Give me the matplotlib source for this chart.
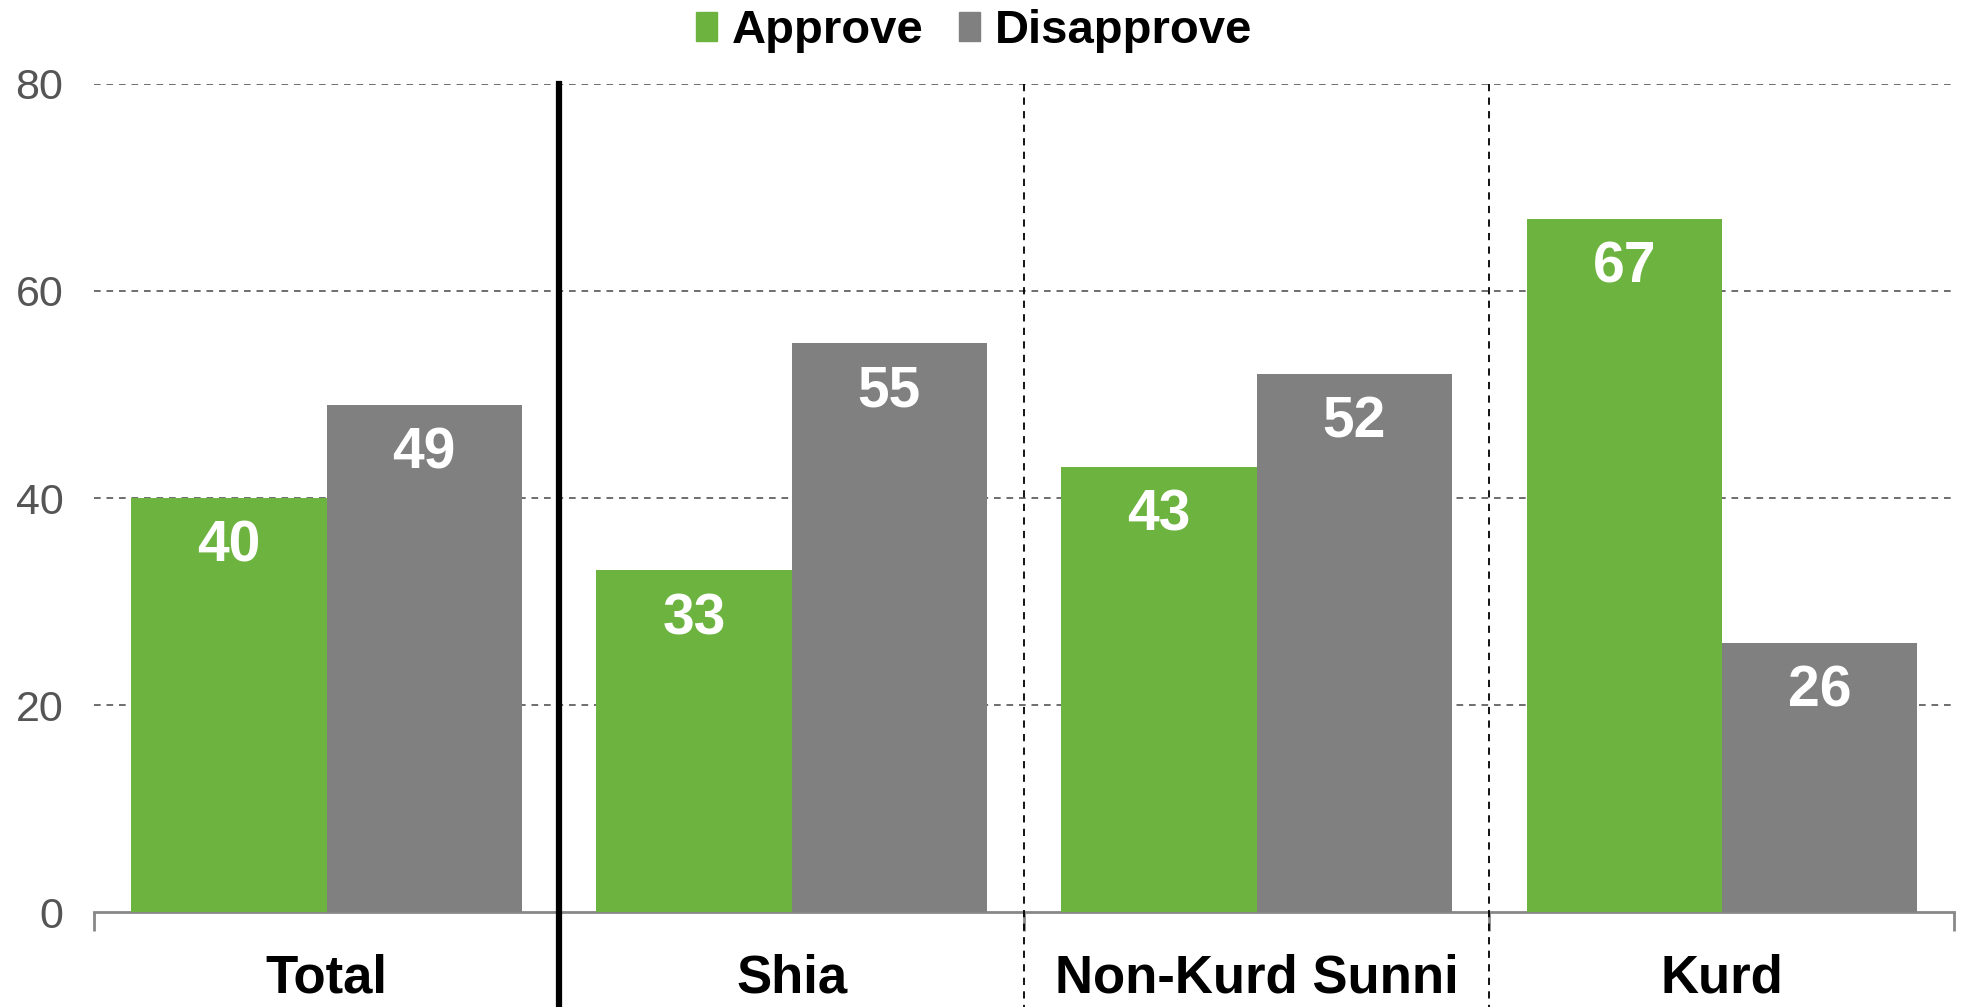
import matplotlib.pyplot as plt
from matplotlib.patches import Patch
import numpy as np

plt.rcParams['font.family'] = ['Liberation Sans', 'DejaVu Sans']

#%%
groups = ["Total", "Shia", "Non-Kurd Sunni", "Kurd"]
approve = [40, 33, 43, 67]
disapprove = [49, 55, 52, 26]
yticks = [0, 20, 40, 60, 80]

green = "#6db33f"
gray = "#808080"

#%%
fig = plt.figure(figsize=(19.67, 10.07), dpi=100)
ax = fig.add_axes([0.0478, 0.0943, 0.9458, 0.8223])

x = np.arange(len(groups))
w = 0.42
b1 = ax.bar(x - w / 2, approve, w, color=green, zorder=3)
b2 = ax.bar(x + w / 2, disapprove, w, color=gray, zorder=3)

for bars, vals in [(b1, approve), (b2, disapprove)]:
    for r, v in zip(bars, vals):
        ax.text(r.get_x() + r.get_width() / 2, v - 4.7, str(v), ha="center", va="center",
                color="white", fontsize=41, fontweight="bold", zorder=4)

ax.set_xlim(-0.5, len(groups) - 0.5)
ax.set_ylim(0, 80)

# gridlines
for yv in yticks[1:]:
    ax.axhline(yv, color="#555555", linestyle=(0, (4, 3.5)), linewidth=1.2, zorder=1)

# separators between groups
ax.plot([0.5, 0.5], [80, -9.3], color="black", linewidth=4.5, clip_on=False, zorder=5)
for xs in [1.5, 2.5]:
    ax.plot([xs, xs], [80, -9.3], color="black", linewidth=1.3, linestyle=(0, (4, 3.5)),
            clip_on=False, zorder=5)

for s in ["top", "right", "left"]:
    ax.spines[s].set_visible(False)
ax.spines["bottom"].set_color("#888888")
ax.spines["bottom"].set_linewidth(2)

ax.set_yticks(yticks)
ax.set_yticklabels([str(t) for t in yticks], fontsize=31, color="#555555")
ax.tick_params(axis="y", length=0, pad=22)

ax.set_xticks(np.arange(-0.5, len(groups)))
ax.set_xticklabels([])
ax.tick_params(axis="x", which="major", length=14, width=2, color="#888888")
ax.set_xticks(x, minor=True)
ax.set_xticklabels(groups, minor=True, fontsize=38, fontweight="bold")
ax.tick_params(axis="x", which="minor", length=0, pad=30)

handles = [Patch(color=green, label="Approve"), Patch(color=gray, label="Disapprove")]
fig.legend(handles=handles, loc="center", bbox_to_anchor=(0.495, 0.969), ncol=2,
           frameon=False, prop={"size": 34, "weight": "bold"}, handlelength=0.46,
           handleheight=0.55, handletextpad=0.3, columnspacing=0.75)

fig.savefig("out.png", dpi=100)
